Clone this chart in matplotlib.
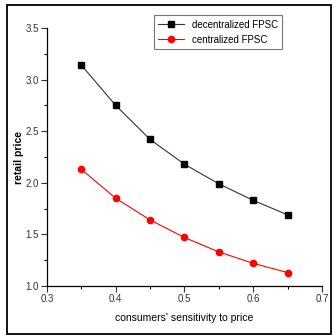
import matplotlib
matplotlib.use("Agg")
import matplotlib.pyplot as plt
from matplotlib.patches import Rectangle
from matplotlib.ticker import MultipleLocator

plt.rcParams['font.family'] = ['Liberation Sans', 'DejaVu Sans']

sensitivity = [0.35, 0.40, 0.45, 0.50, 0.55, 0.60, 0.65]
decentralized = [3.14, 2.75, 2.42, 2.18, 1.99, 1.83, 1.69]
centralized = [2.13, 1.85, 1.64, 1.47, 1.33, 1.22, 1.13]
x_ticks = [0.3, 0.4, 0.5, 0.6, 0.7]
y_ticks = [1.0, 1.5, 2.0, 2.5, 3.0, 3.5]

fig = plt.figure(figsize=(3.32, 3.35), dpi=100)
ax = fig.add_axes([0.1416, 0.1463, 0.828, 0.770])

ax.plot(sensitivity, decentralized, color='#333333', lw=0.8, marker='s',
        ms=4.5, mfc='black', mec='black', label='decentralized FPSC')
ax.plot(sensitivity, centralized, color='red', lw=0.8, marker='o',
        ms=4.5, mfc='red', mec='red', label='centralized FPSC')

ax.set_xlim(0.3, 0.7)
ax.set_ylim(1.0, 3.5)
ax.set_xticks(x_ticks)
ax.set_yticks(y_ticks)
ax.set_xticklabels([f'{v:.1f}' for v in x_ticks])
ax.set_yticklabels([f'{v:.1f}' for v in y_ticks])
ax.xaxis.set_minor_locator(MultipleLocator(0.05))
ax.yaxis.set_minor_locator(MultipleLocator(0.25))
ax.tick_params(which='major', direction='out', length=4, width=0.8,
               labelsize=7, pad=2, colors='#333333')
ax.tick_params(which='minor', direction='out', length=2, width=0.8)
for s in ['top', 'right']:
    ax.spines[s].set_visible(False)
for s in ['left', 'bottom']:
    ax.spines[s].set_linewidth(0.9)

ax.set_xlabel("consumers' sensitivity to price", fontsize=7.5, labelpad=6)
ax.set_ylabel('retail price', fontsize=7.5, fontweight='bold')
ax.yaxis.set_label_coords(-0.085, 0.5)

leg = ax.legend(loc='upper right', bbox_to_anchor=(0.855, 1.05), fontsize=7,
                frameon=True, fancybox=False, edgecolor='#555555',
                handlelength=2.6, borderpad=0.45, labelspacing=0.55,
                borderaxespad=0)
leg.get_frame().set_linewidth(0.8)

fig.patches.append(Rectangle((7 / 332, 1.5 / 335), 323.5 / 332, 328.5 / 335,
                             transform=fig.transFigure, fill=False,
                             edgecolor='black', lw=1.3))

fig.savefig('out.png', dpi=100)
